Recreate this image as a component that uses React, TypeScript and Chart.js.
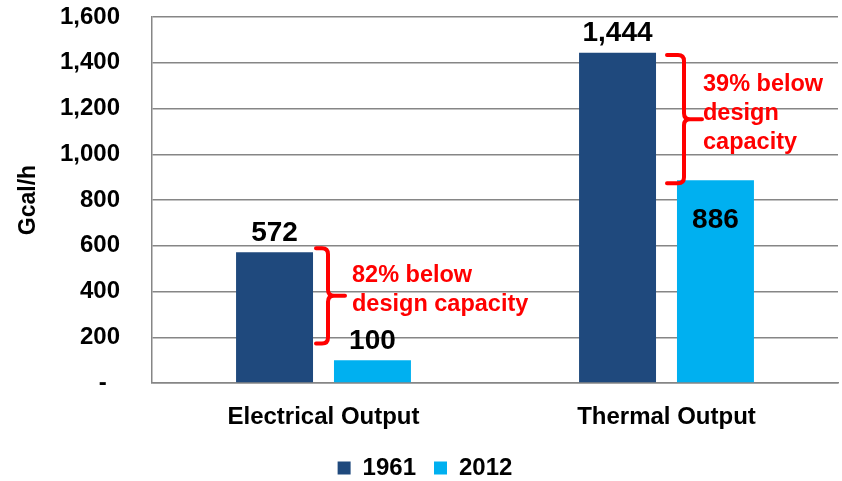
import React, { useEffect, useRef } from "react";
import { Chart, registerables } from "chart.js";

Chart.register(...registerables);

// ---------- data ----------
const categories = ["Electrical Output", "Thermal Output"];
const seriesNames = ["1961", "2012"];
const values1961 = [572, 1444];
const values2012 = [100, 886];
const yTickValues = [0, 200, 400, 600, 800, 1000, 1200, 1400, 1600];
const yTickLabels = ["-  ", "200", "400", "600", "800", "1,000", "1,200", "1,400", "1,600"];
const yAxisTitle = "Gcal/h";
const labelInside1961 = [false, false];
const labelInside2012 = [false, true];
const noteLines = [
  ["82% below", "design capacity"],
  ["39% below", "design", "capacity"],
];
const bracketFrom = [589, 1434];
const bracketTo = [173, 873];

// ---------- styling / layout ----------
const FONT = "'Liberation Sans', Arial, Helvetica, sans-serif";
const GRID = "#868686";
const NAVY = "#1F497D";
const CYAN = "#00B0F0";
const RED = "#FF0000";
const BRACKET_LAYOUT = [
  { arm: -7.5, stem: 4.5, tip: 21.5, text: 28.5 },
  { arm: 0.5, stem: 17.5, tip: 35.5, text: 36.5 },
];

const fmt = (n: number) => n.toLocaleString("en-US");

const overlayPlugin = {
  id: "overlay",
  afterLayout(chart: any) {
    const l = chart.legend;
    if (l) {
      l.top += 9;
      l.bottom += 9;
      l.left += 6;
      l.right += 6;
    }
  },
  afterDatasetsDraw(chart: any) {
    const ctx = chart.ctx;
    const inside = [labelInside1961, labelInside2012];
    chart.data.datasets.forEach((ds: any, di: number) => {
      const meta = chart.getDatasetMeta(di);
      meta.data.forEach((bar: any, i: number) => {
        const v = ds.data[i] as number;
        ctx.save();
        ctx.font = `bold 28px ${FONT}`;
        ctx.fillStyle = "#000";
        ctx.textAlign = "center";
        ctx.textBaseline = "middle";
        const y = inside[di][i] ? bar.y + 40 : bar.y - 19;
        ctx.fillText(fmt(v), bar.x, y);
        ctx.restore();
      });
    });

    const xs = chart.scales.x;
    const ys = chart.scales.y;
    noteLines.forEach((lines, i) => {
      const cx = xs.getPixelForValue(i);
      const L = BRACKET_LAYOUT[i];
      const top = ys.getPixelForValue(bracketFrom[i]);
      const bot = ys.getPixelForValue(bracketTo[i]);
      const mid = (top + bot) / 2;
      const xa = cx + L.arm;
      const xv = cx + L.stem;
      const xt = cx + L.tip;
      const r = 6;
      ctx.save();
      ctx.strokeStyle = RED;
      ctx.lineWidth = 4;
      ctx.lineJoin = "round";
      ctx.lineCap = "round";
      ctx.beginPath();
      ctx.moveTo(xa, top);
      ctx.lineTo(xv - r, top);
      ctx.quadraticCurveTo(xv, top, xv, top + r);
      ctx.lineTo(xv, mid - r);
      ctx.quadraticCurveTo(xv, mid, xv + r, mid);
      ctx.lineTo(xt, mid);
      ctx.moveTo(xv + r, mid);
      ctx.quadraticCurveTo(xv, mid, xv, mid + r);
      ctx.lineTo(xv, bot - r);
      ctx.quadraticCurveTo(xv, bot, xv - r, bot);
      ctx.lineTo(xa, bot);
      ctx.stroke();

      ctx.font = `bold 23.5px ${FONT}`;
      ctx.fillStyle = RED;
      ctx.textAlign = "left";
      ctx.textBaseline = "alphabetic";
      const n = lines.length;
      lines.forEach((t, k) => {
        ctx.fillText(t, cx + L.text, mid + (k - (n - 1) / 2) * 29 + 1);
      });
      ctx.restore();
    });
  },
};

export default function App() {
  const ref = useRef<HTMLCanvasElement | null>(null);

  useEffect(() => {
    document.body.style.margin = "0";
    const canvas = ref.current;
    if (!canvas) return;
    Chart.defaults.font.family = FONT;
    const chart = new Chart(canvas, {
      type: "bar",
      data: {
        labels: categories,
        datasets: [
          {
            label: seriesNames[0],
            data: values1961,
            backgroundColor: NAVY,
            categoryPercentage: 0.571,
            barPercentage: 0.786,
          },
          {
            label: seriesNames[1],
            data: values2012,
            backgroundColor: CYAN,
            categoryPercentage: 0.571,
            barPercentage: 0.786,
          },
        ],
      },
      options: {
        responsive: false,
        animation: false,
        devicePixelRatio: 1,
        layout: { padding: { top: 17, right: 4, left: 0, bottom: 0 } },
        plugins: {
          legend: {
            position: "bottom",
            labels: {
              boxWidth: 13,
              boxHeight: 13,
              padding: 18,
              color: "#000",
              font: { size: 24, weight: "bold", family: FONT },
            },
          },
          tooltip: { enabled: false },
        },
        scales: {
          x: {
            grid: { display: false, drawTicks: false },
            border: { display: true, color: GRID, width: 1.5 },
            ticks: {
              padding: 20,
              maxRotation: 0,
              color: "#000",
              font: { size: 24, weight: "bold", family: FONT },
            },
            afterFit: (s: any) => {
              s.height = 46;
            },
          },
          y: {
            min: 0,
            max: 1600,
            ticks: {
              stepSize: 200,
              padding: 0,
              color: "#000",
              font: { size: 24, weight: "bold", family: FONT },
              callback: (value: any) => {
                const idx = yTickValues.indexOf(Number(value));
                return idx >= 0 ? yTickLabels[idx] : "";
              },
            },
            grid: {
              color: GRID,
              lineWidth: 1.5,
              drawTicks: true,
              tickLength: 32,
              tickColor: "rgba(0,0,0,0)",
            },
            border: { display: true, color: GRID, width: 1.5 },
            title: {
              display: true,
              text: yAxisTitle,
              color: "#000",
              font: { size: 23, weight: "bold", family: FONT },
              padding: { top: 15, bottom: 0 },
            },
            afterFit: (s: any) => {
              s.width = 152;
            },
          },
        },
      },
      plugins: [overlayPlugin],
    } as any);
    return () => chart.destroy();
  }, []);

  return (
    <div style={{ width: 842, height: 481 }}>
      <canvas ref={ref} width={842} height={481} style={{ display: "block", width: 842, height: 481 }} />
    </div>
  );
}
